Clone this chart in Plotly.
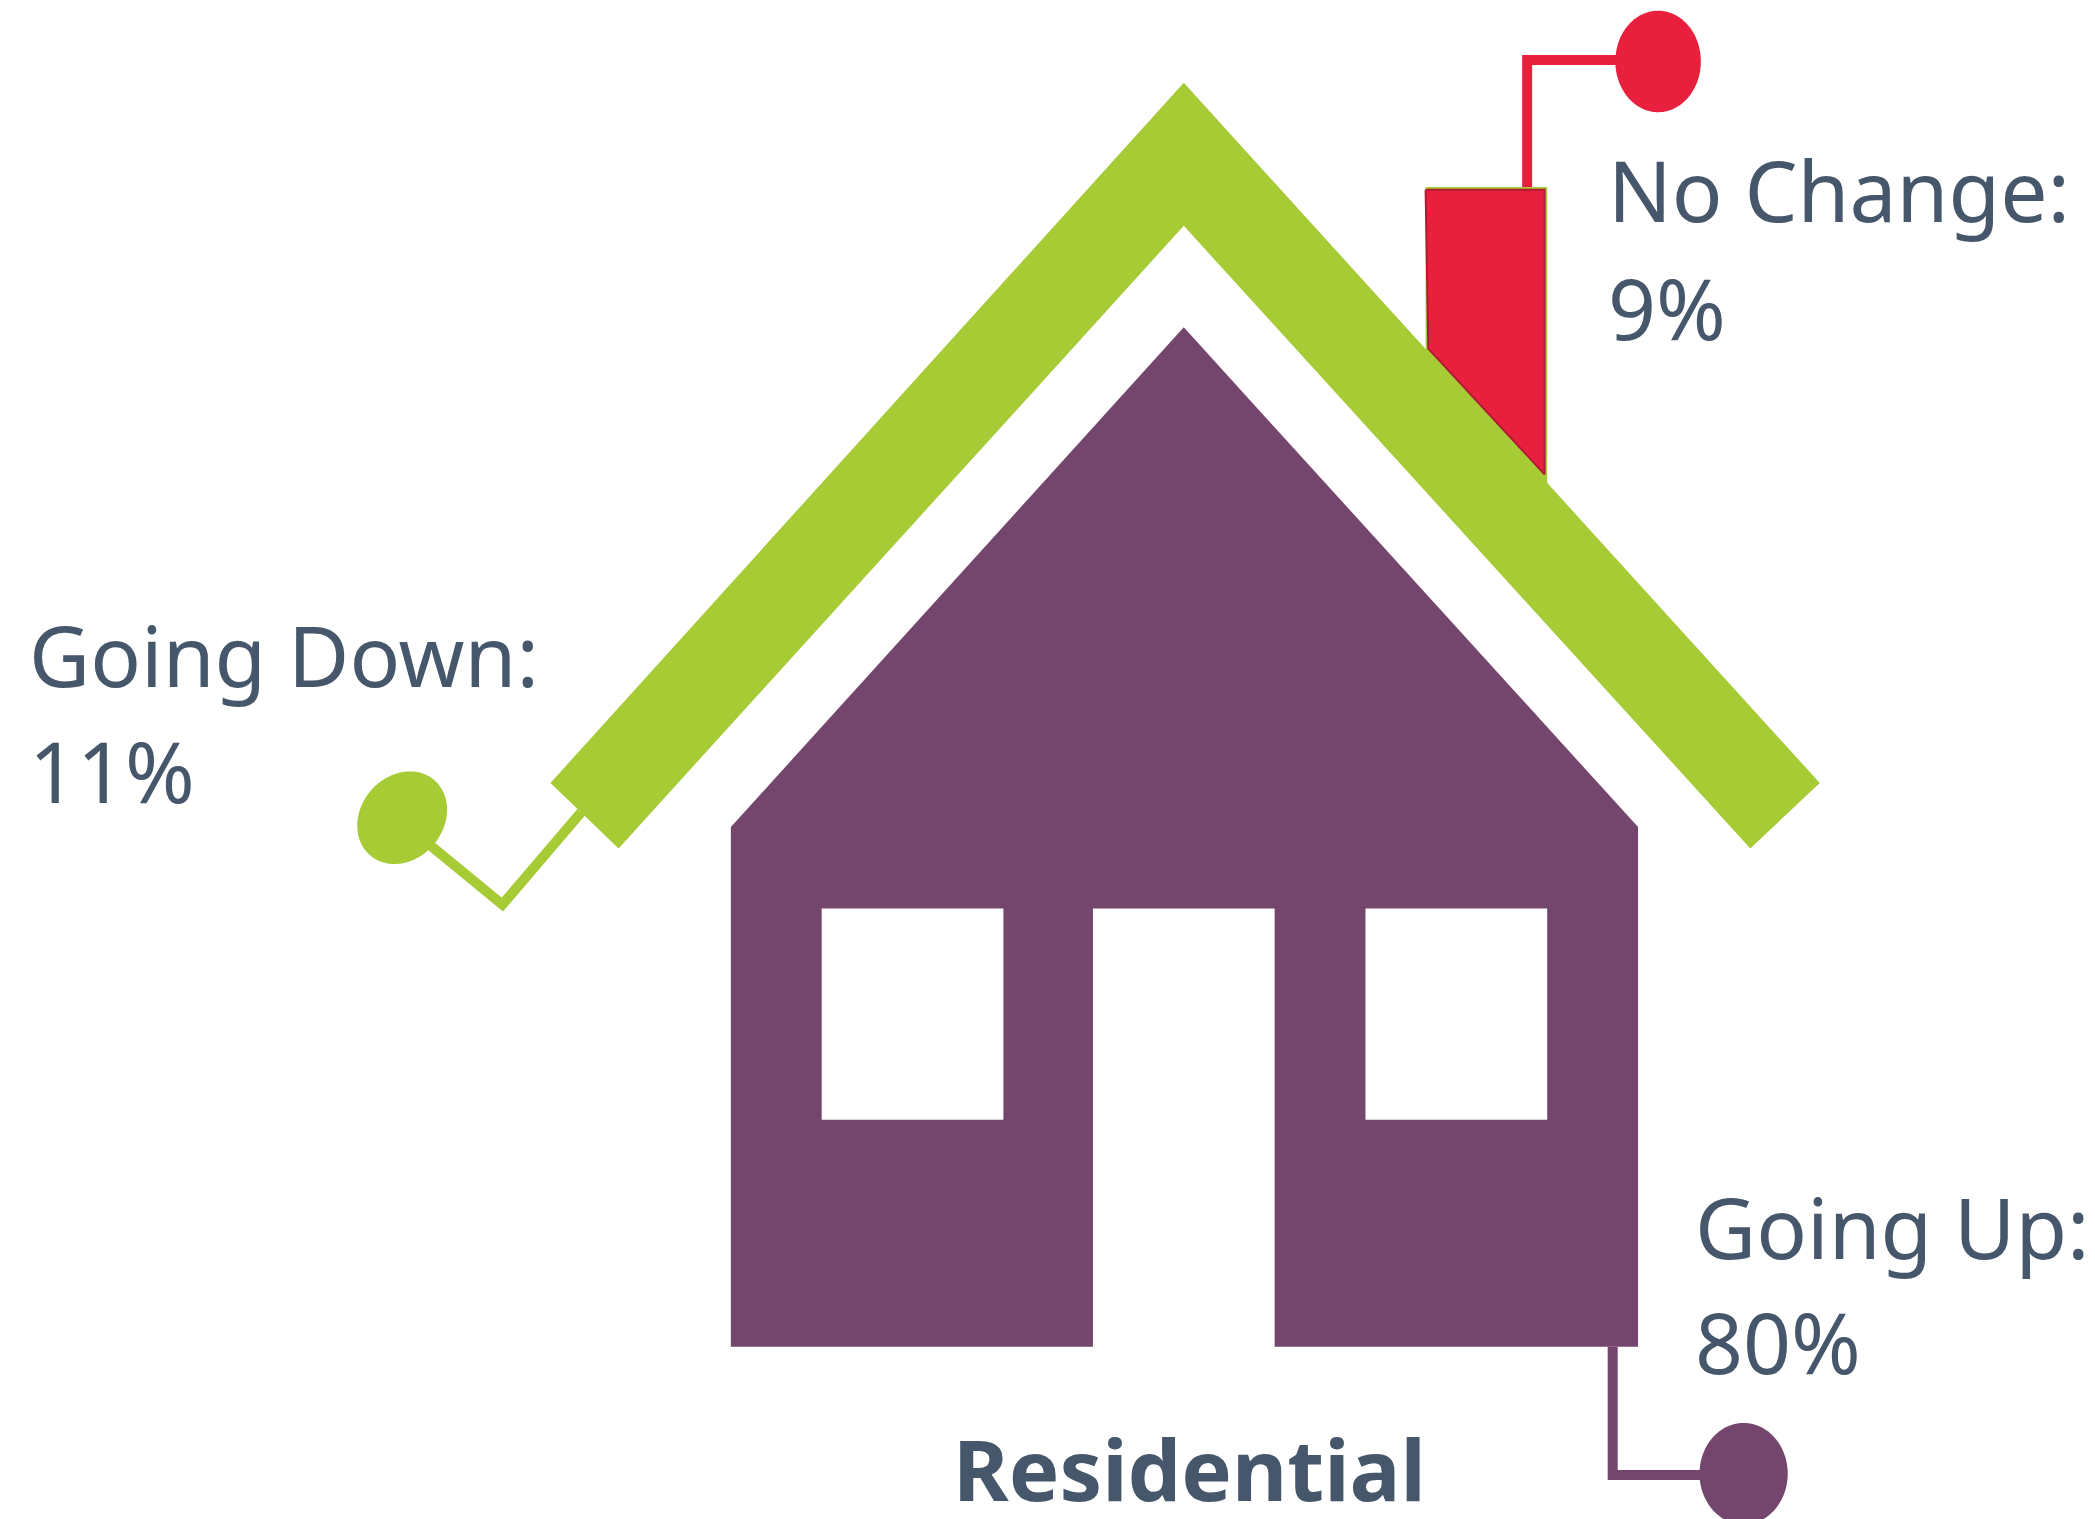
import numpy as np
import plotly.graph_objects as go

W, H = 2095, 1519
S = 2095 / 1568  # outline points were read on a 1568-wide view

# Data
categories = ["Going Up", "Going Down", "No Change"]
shares = [80, 11, 9]
title = "Residential"

PURPLE = "#74456D"
GREEN = "#A6CB35"
RED = "#E8203E"
TEXT = "#46566B"
FONT = "Noto Sans"

roof_x = [886, 1362, 1310, 886, 463, 412, 886]
roof_y = [62, 586, 635, 169, 635, 586, 62]
house_x = [886, 1226, 1226, 954, 954, 818, 818, 547, 547, 886]
house_y = [245, 619, 1008, 1008, 680, 680, 1008, 1008, 619, 245]
win1_x = [615, 751, 751, 615, 615]
win2_x = [1022, 1158, 1158, 1022, 1022]
win_y = [680, 680, 838, 838, 680]
chim_back_x = [1067, 1158, 1158, 1067]
chim_back_y = [140, 140, 362, 262]
chim_x = [1067, 1156, 1156, 1069, 1067]
chim_y = [142, 142, 355, 261, 142]
red_line_x, red_line_y = [1143, 1143, 1212], [142, 45, 45]
green_line_x, green_line_y = [315, 376, 435], [627, 677, 608]
purple_line_x, purple_line_y = [1207, 1207, 1276], [1008, 1104, 1104]

label_x = {"Going Up": 1267, "Going Down": 20, "No Change": 1202}
label_y1 = {"Going Up": 943, "Going Down": 515, "No Change": 167}
label_y2 = {"Going Up": 1029, "Going Down": 602, "No Change": 255}


def px(v):
    return [a * S for a in v]


def ellipse(cx, cy, rx, ry, deg=0.0):
    t = np.linspace(0, 2 * np.pi, 181)
    a = np.radians(deg)
    x = rx * np.cos(t)
    y = ry * np.sin(t)
    return cx + x * np.cos(a) - y * np.sin(a), cy + x * np.sin(a) + y * np.cos(a)


fig = go.Figure()


def poly(x, y, color, line=None, lw=0):
    fig.add_trace(go.Scatter(x=px(x), y=px(y), mode="lines", fill="toself", fillcolor=color,
                             line=dict(color=line or color, width=lw, simplify=False),
                             hoverinfo="skip", showlegend=False))


def path(x, y, color):
    fig.add_trace(go.Scatter(x=px(x), y=px(y), mode="lines",
                             line=dict(color=color, width=10), hoverinfo="skip", showlegend=False))


path(red_line_x, red_line_y, RED)
path(green_line_x, green_line_y, GREEN)
path(purple_line_x, purple_line_y, PURPLE)
poly(chim_back_x, chim_back_y, GREEN)
poly(roof_x, roof_y, GREEN)
poly(chim_x, chim_y, RED, "#B01A35", 2)
poly(house_x, house_y, PURPLE)
poly(win1_x, win_y, "#FFFFFF")
poly(win2_x, win_y, "#FFFFFF")

for cx, cy, rx, ry, deg, col in [(1241, 46, 32, 38, 0, RED),
                                 (1305, 1103, 33, 38, 0, PURPLE),
                                 (301, 612, 31, 37, 40, GREEN)]:
    ex, ey = ellipse(cx, cy, rx, ry, deg)
    poly(list(ex), list(ey), col)

annotations = []
CENTER_RISE = 25  # text box centre lies this far above the baseline
for name, val in zip(categories, shares):
    for txt, yy in [(f"{name}:", label_y1[name]), (f"{val}%", label_y2[name])]:
        annotations.append(dict(x=label_x[name] * S, y=(yy - CENTER_RISE) * S, text=txt, showarrow=False,
                                xanchor="left", yanchor="middle", xref="x", yref="y",
                                font=dict(family=FONT, size=84, color=TEXT)))
annotations.append(dict(x=890 * S, y=(1124 - CENTER_RISE) * S, text=f"<b>{title}</b>", showarrow=False,
                        xanchor="center", yanchor="middle", xref="x", yref="y", height=90,
                        font=dict(family=FONT, size=85, color=TEXT)))

fig.update_layout(
    width=W, height=H, margin=dict(l=0, r=0, t=0, b=0),
    paper_bgcolor="white", plot_bgcolor="white", showlegend=False,
    xaxis=dict(range=[0, W], visible=False, fixedrange=True),
    yaxis=dict(range=[H, 0], visible=False, fixedrange=True),
    annotations=annotations,
)
fig.write_html("out.html", post_script="document.body.style.margin='0';",
               config={"displayModeBar": False})
